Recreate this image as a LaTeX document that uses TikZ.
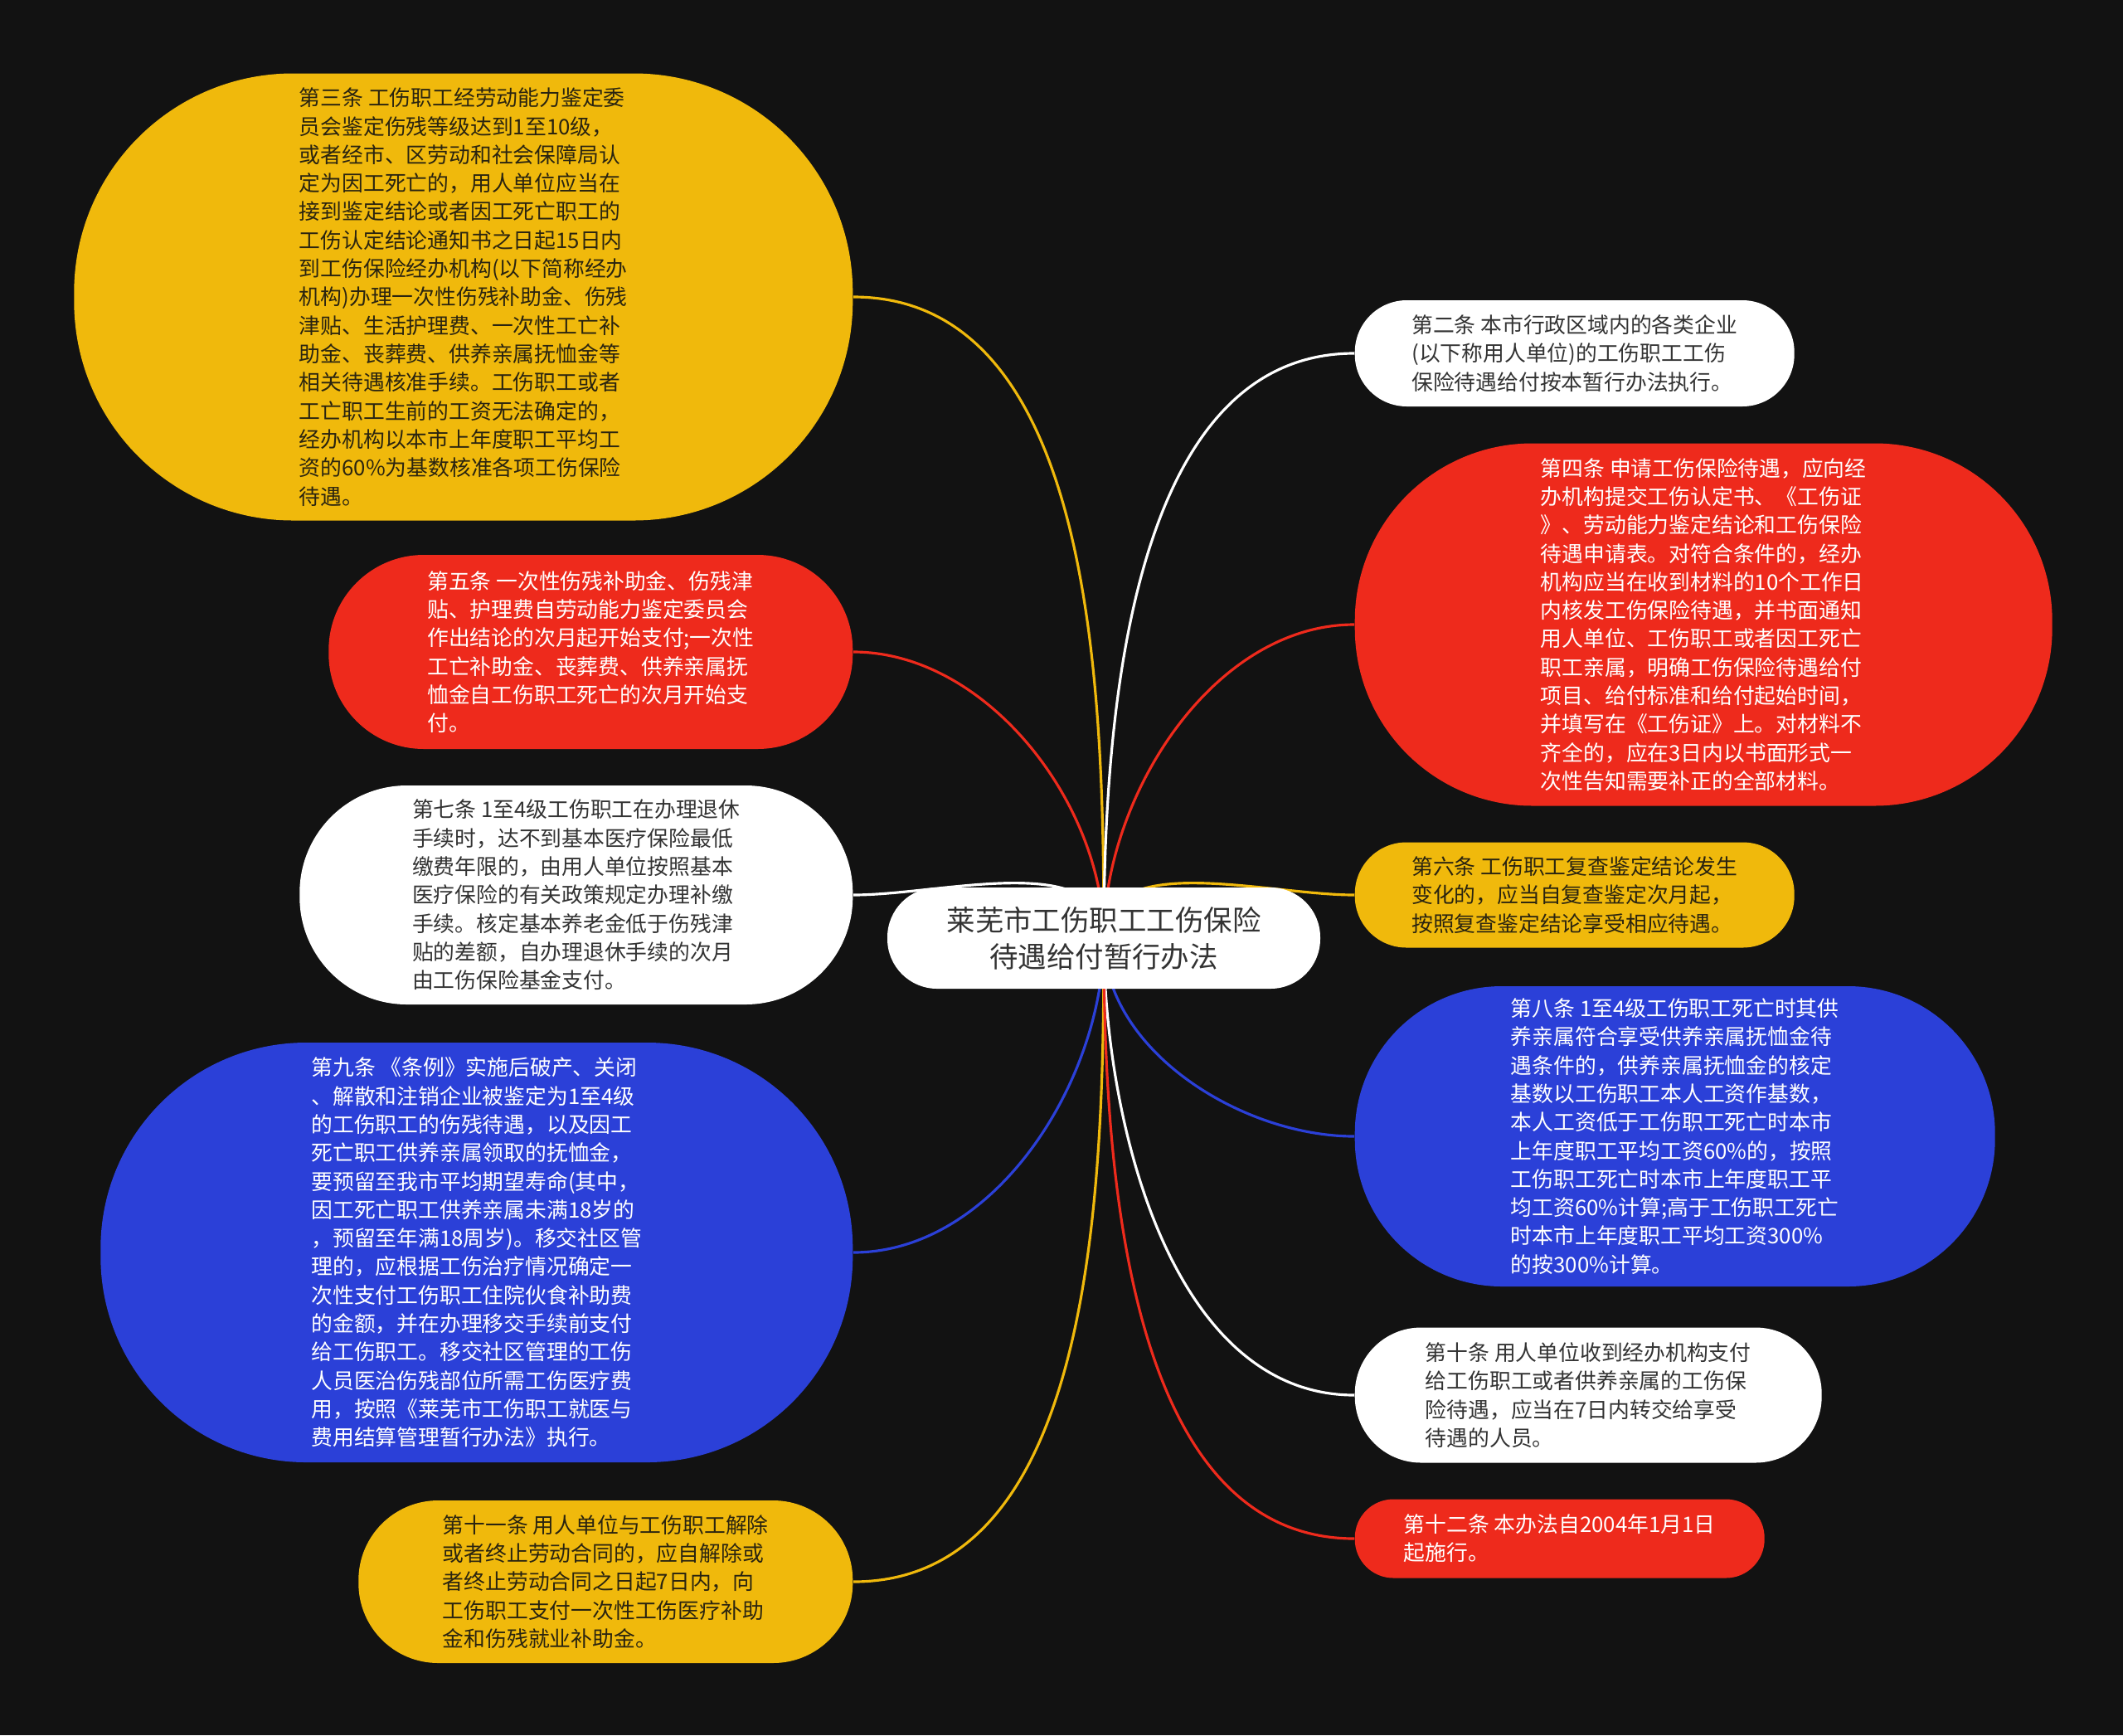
\documentclass[tikz,border=0pt]{standalone}
\usepackage{fontspec}
\setmainfont{Noto Sans CJK SC}
\usetikzlibrary{calc}

\definecolor{cbg}{HTML}{121212}
\definecolor{cyellow}{HTML}{F0B90C}
\definecolor{cred}{HTML}{EE2A1C}
\definecolor{cblue}{HTML}{2B40D8}
\definecolor{cdark}{HTML}{2A2410}
\definecolor{cgray}{HTML}{333333}

\pgfdeclarelayer{bg}
\pgfdeclarelayer{edges}
\pgfsetlayers{bg,edges,main}

\newcommand{\leaffont}{\fontsize{7.34pt}{9.76pt}\selectfont}
\newcommand{\rootfont}{\fontsize{9.8pt}{12.5pt}\selectfont}

\begin{document}
\begin{tikzpicture}[
    leaf/.style 2 args={rectangle, rounded corners=0.49*#2, minimum width=#1,
      minimum height=#2, inner sep=0pt, align=left, font=\leaffont},
    yel/.style={fill=cyellow, text=cdark},
    red/.style={fill=cred, text=white},
    blu/.style={fill=cblue, text=white},
    wht/.style={fill=white, text=cgray},
    link/.style={draw=#1, line width=0.9pt, looseness=0.9},
  ]
  % 背景
  \begin{pgfonlayer}{bg}
    \fill[cbg] (0,0) rectangle (25.6,-20.92);
  \end{pgfonlayer}

  % 中心主题
  \node[rectangle, rounded corners=0.6cm, minimum width=5.22cm, minimum height=1.22cm,
    fill=white, text=cgray, align=center, font=\rootfont] (root) at (13.31,-11.31)
    {莱芜市工伤职工工伤保险\\待遇给付暂行办法};

  % 左侧各条
  \node[leaf={9.39cm}{5.39cm}, yel, anchor=east] (art3) at (10.29,-3.58)
    {第三条 工伤职工经劳动能力鉴定委\\
     员会鉴定伤残等级达到1至10级，\\
     或者经市、区劳动和社会保障局认\\
     定为因工死亡的，用人单位应当在\\
     接到鉴定结论或者因工死亡职工的\\
     工伤认定结论通知书之日起15日内\\
     到工伤保险经办机构(以下简称经办\\
     机构)办理一次性伤残补助金、伤残\\
     津贴、生活护理费、一次性工亡补\\
     助金、丧葬费、供养亲属抚恤金等\\
     相关待遇核准手续。工伤职工或者\\
     工亡职工生前的工资无法确定的，\\
     经办机构以本市上年度职工平均工\\
     资的60\%为基数核准各项工伤保险\\
     待遇。};
  \node[leaf={6.32cm}{2.34cm}, red, anchor=east] (art5) at (10.29,-7.86)
    {第五条 一次性伤残补助金、伤残津\\
     贴、护理费自劳动能力鉴定委员会\\
     作出结论的次月起开始支付;一次性\\
     工亡补助金、丧葬费、供养亲属抚\\
     恤金自工伤职工死亡的次月开始支\\
     付。};
  \node[leaf={6.67cm}{2.64cm}, wht, anchor=east] (art7) at (10.29,-10.79)
    {第七条 1至4级工伤职工在办理退休\\
     手续时，达不到基本医疗保险最低\\
     缴费年限的，由用人单位按照基本\\
     医疗保险的有关政策规定办理补缴\\
     手续。核定基本养老金低于伤残津\\
     贴的差额，自办理退休手续的次月\\
     由工伤保险基金支付。};
  \node[leaf={9.07cm}{5.06cm}, blu, anchor=east] (art9) at (10.29,-15.10)
    {第九条 《条例》实施后破产、关闭\\
     、解散和注销企业被鉴定为1至4级\\
     的工伤职工的伤残待遇，以及因工\\
     死亡职工供养亲属领取的抚恤金，\\
     要预留至我市平均期望寿命(其中，\\
     因工死亡职工供养亲属未满18岁的\\
     ，预留至年满18周岁)。移交社区管\\
     理的，应根据工伤治疗情况确定一\\
     次性支付工伤职工住院伙食补助费\\
     的金额，并在办理移交手续前支付\\
     给工伤职工。移交社区管理的工伤\\
     人员医治伤残部位所需工伤医疗费\\
     用，按照《莱芜市工伤职工就医与\\
     费用结算管理暂行办法》执行。};
  \node[leaf={5.96cm}{1.96cm}, yel, anchor=east] (art11) at (10.29,-19.07)
    {第十一条 用人单位与工伤职工解除\\
     或者终止劳动合同的，应自解除或\\
     者终止劳动合同之日起7日内，向\\
     工伤职工支付一次性工伤医疗补助\\
     金和伤残就业补助金。};

  % 右侧各条
  \node[leaf={5.30cm}{1.28cm}, wht, anchor=west] (art2) at (16.33,-4.26)
    {第二条 本市行政区域内的各类企业\\
     (以下称用人单位)的工伤职工工伤\\
     保险待遇给付按本暂行办法执行。};
  \node[leaf={8.41cm}{4.37cm}, red, anchor=west] (art4) at (16.33,-7.53)
    {第四条 申请工伤保险待遇，应向经\\
     办机构提交工伤认定书、《工伤证\\
     》、劳动能力鉴定结论和工伤保险\\
     待遇申请表。对符合条件的，经办\\
     机构应当在收到材料的10个工作日\\
     内核发工伤保险待遇，并书面通知\\
     用人单位、工伤职工或者因工死亡\\
     职工亲属，明确工伤保险待遇给付\\
     项目、给付标准和给付起始时间，\\
     并填写在《工伤证》上。对材料不\\
     齐全的，应在3日内以书面形式一\\
     次性告知需要补正的全部材料。};
  \node[leaf={5.30cm}{1.27cm}, yel, anchor=west] (art6) at (16.33,-10.79)
    {第六条 工伤职工复查鉴定结论发生\\
     变化的，应当自复查鉴定次月起，\\
     按照复查鉴定结论享受相应待遇。};
  \node[leaf={7.72cm}{3.62cm}, blu, anchor=west] (art8) at (16.33,-13.70)
    {第八条 1至4级工伤职工死亡时其供\\
     养亲属符合享受供养亲属抚恤金待\\
     遇条件的，供养亲属抚恤金的核定\\
     基数以工伤职工本人工资作基数，\\
     本人工资低于工伤职工死亡时本市\\
     上年度职工平均工资60\%的，按照\\
     工伤职工死亡时本市上年度职工平\\
     均工资60\%计算;高于工伤职工死亡\\
     时本市上年度职工平均工资300\%\\
     的按300\%计算。};
  \node[leaf={5.63cm}{1.63cm}, wht, anchor=west] (art10) at (16.33,-16.82)
    {第十条 用人单位收到经办机构支付\\
     给工伤职工或者供养亲属的工伤保\\
     险待遇，应当在7日内转交给享受\\
     待遇的人员。};
  \node[leaf={4.94cm}{0.95cm}, red, anchor=west] (art12) at (16.33,-18.55)
    {第十二条 本办法自2004年1月1日\\
     起施行。};

  % 连线（压在节点下面）
  \begin{pgfonlayer}{edges}
    \draw[link=cyellow] (root.center) to[out=90,in=0] (art3.east);
    \draw[link=cred] (root.center) to[out=90,in=0] (art5.east);
    \draw[link=white] (root.center) to[out=90,in=0] (art7.east);
    \draw[link=cblue] (root.center) to[out=-90,in=0] (art9.east);
    \draw[link=cyellow] (root.center) to[out=-90,in=0] (art11.east);
    \draw[link=white] (root.center) to[out=90,in=180] (art2.west);
    \draw[link=cred] (root.center) to[out=90,in=180] (art4.west);
    \draw[link=cyellow] (root.center) to[out=90,in=180] (art6.west);
    \draw[link=cblue] (root.center) to[out=-90,in=180] (art8.west);
    \draw[link=white] (root.center) to[out=-90,in=180] (art10.west);
    \draw[link=cred] (root.center) to[out=-90,in=180] (art12.west);
  \end{pgfonlayer}
\end{tikzpicture}
\end{document}
